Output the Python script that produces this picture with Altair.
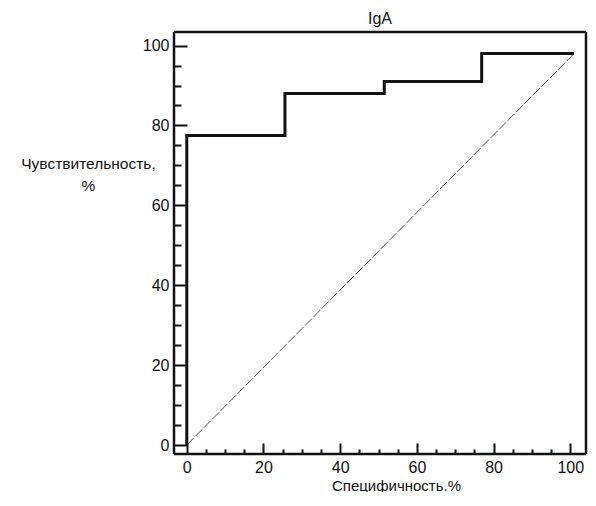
import altair as alt
import pandas as pd

# ROC step points (specificity %, sensitivity %)
roc_x = [0, 0, 25.6, 51.5, 76.9, 101]
roc_y = [0, 77.5, 88, 91, 98, 98]
# reference diagonal
diag_x = [0, 101]
diag_y = [0, 98]

major_ticks = [0, 20, 40, 60, 80, 100]
minor_ticks = [v for v in range(0, 101, 5) if v % 20 != 0]

roc = pd.DataFrame({"x": roc_x, "y": roc_y})
diag = pd.DataFrame({"x": diag_x, "y": diag_y})

W, H = 412, 422
xscale = alt.Scale(domain=[-3.33, 104.1], nice=False, zero=False)
yscale = alt.Scale(domain=[-2.25, 103.4], nice=False, zero=False)

FONT = "Liberation Sans"

one = pd.DataFrame({"a": [0]})
fs = dict(color="#111", strokeWidth=2.5)
frame_top = alt.Chart(one).mark_rule(**fs).encode(
    x=alt.value(0), x2=alt.value(W), y=alt.value(0))
frame_bottom = alt.Chart(one).mark_rule(**fs).encode(
    x=alt.value(0), x2=alt.value(W), y=alt.value(H))
frame_left = alt.Chart(one).mark_rule(**fs).encode(
    x=alt.value(0), y=alt.value(0), y2=alt.value(H))
frame_right = alt.Chart(one).mark_rule(**fs).encode(
    x=alt.value(W), y=alt.value(0), y2=alt.value(H))

roc_layer = alt.Chart(roc).mark_line(
    interpolate="step-after", color="#111", strokeWidth=3
).encode(
    x=alt.X("x:Q", scale=xscale, axis=alt.Axis(
        orient="bottom", values=major_ticks, offset=-11, tickSize=11,
        tickWidth=2, tickColor="#111", domain=False, grid=False,
        labelPadding=5, labelFontSize=16, labelFont=FONT, labelColor="#111",
        title="Специфичность.%", titleFont=FONT, titleFontSize=15,
        titleFontWeight="normal", titleColor="#111",
        titleX=222, titleY=42, titleBaseline="middle", titleAnchor="start",
        titleAlign="center")),
    y=alt.Y("y:Q", scale=yscale, axis=alt.Axis(
        orient="left", values=major_ticks, offset=-13, tickSize=13,
        tickWidth=2, tickColor="#111", domain=False, grid=False,
        labelPadding=5, labelFontSize=16, labelFont=FONT, labelColor="#111",
        title=["Чувствительность,", "%"], titleAngle=0, titleFont=FONT,
        titleFontSize=15.5, titleFontWeight="normal", titleColor="#111",
        titleAlign="center", titleBaseline="middle", titleLineHeight=22,
        titleX=-99, titleY=131, titleAnchor="start")),
)

diag_layer = alt.Chart(diag).mark_line(
    color="#555", strokeWidth=1, strokeDash=[10, 2]
).encode(
    x=alt.X("x:Q", scale=xscale, axis=alt.Axis(
        orient="bottom", values=minor_ticks, offset=-5, tickSize=5,
        tickWidth=2, tickColor="#111", domain=False, grid=False,
        labels=False, title=None)),
    y=alt.Y("y:Q", scale=yscale, axis=alt.Axis(
        orient="left", values=minor_ticks, offset=-7, tickSize=7,
        tickWidth=2, tickColor="#111", domain=False, grid=False,
        labels=False, title=None)),
)

chart = alt.layer(
    diag_layer, roc_layer, frame_top, frame_bottom, frame_left, frame_right
).resolve_axis(
    x="independent", y="independent"
).properties(
    width=W, height=H,
    background="white",
    title=alt.TitleParams("IgA", font=FONT, fontSize=16, fontWeight="normal",
                          color="#111", offset=4, anchor="middle"),
    autosize=alt.AutoSizeParams(type="none"),
    padding={"left": 166, "top": 24, "right": 2, "bottom": 38},
).configure_view(
    stroke=None
)

chart.save("out.html", embed_options={"renderer": "svg", "actions": False})
